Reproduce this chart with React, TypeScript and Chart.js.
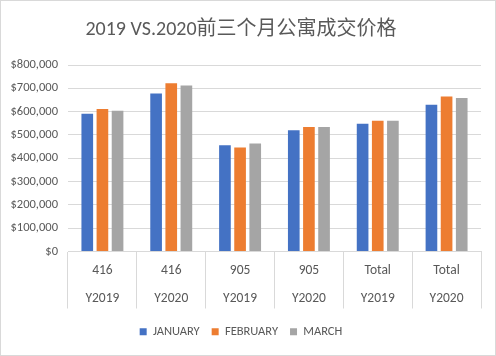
import React, { useEffect, useRef } from "react";
import { Chart, registerables } from "chart.js";

Chart.register(...registerables);

const groups = ["416", "416", "905", "905", "Total", "Total"];
const years = ["Y2019", "Y2020", "Y2019", "Y2020", "Y2019", "Y2020"];
const january = [591000, 678000, 456000, 520000, 548000, 629000];
const february = [611000, 722000, 446000, 534000, 561000, 665000];
const march = [604000, 712000, 463000, 534000, 561000, 658000];
const seriesNames = ["JANUARY", "FEBRUARY", "MARCH"];
const yTicks = [0, 100000, 200000, 300000, 400000, 500000, 600000, 700000, 800000];
const title = "2019 VS.2020前三个月公寓成交价格";

const FONT = 'Carlito, Calibri, Lato, "Noto Sans CJK SC", sans-serif';
const TEXT = "#595959";
const GRID = "#d9d9d9";

export default function App() {
  const ref = useRef<HTMLCanvasElement | null>(null);
  useEffect(() => {
    if (!ref.current) return;
    const chart = new Chart(ref.current, {
      type: "bar",
      data: {
        labels: groups.map((g, i) => [g, years[i]]),
        datasets: [
          { label: seriesNames[0], data: january, backgroundColor: "#4472C4" },
          { label: seriesNames[1], data: february, backgroundColor: "#ED7D31" },
          { label: seriesNames[2], data: march, backgroundColor: "#A5A5A5" },
        ],
      },
      options: {
        responsive: false,
        animation: false,
        datasets: { bar: { categoryPercentage: 0.66, barPercentage: 0.77 } },
        layout: { padding: { left: 0, right: 14, top: 0, bottom: 7 } },
        plugins: {
          title: {
            display: true,
            text: title,
            color: TEXT,
            font: { family: FONT, size: 20, weight: "normal" },
            padding: { top: 17, bottom: 23 },
          },
          legend: {
            position: "bottom",
            labels: {
              boxWidth: 7,
              boxHeight: 7,
              color: TEXT,
              padding: 12,
              font: { family: FONT, size: 12.5 },
            },
          },
          tooltip: { enabled: false },
        },
        scales: {
          x: {
            grid: {
              offset: true,
              drawOnChartArea: false,
              drawTicks: true,
              tickLength: 57,
              color: GRID,
            },
            border: { color: GRID },
            ticks: {
              color: TEXT,
              padding: -52,
              font: { family: FONT, size: 13.5, lineHeight: 2.1 },
              maxRotation: 0,
            },
            afterFit: (s: any) => {
              s.height = 62;
            },
          },
          y: {
            min: 0,
            max: 800000,
            afterBuildTicks: (s: any) => {
              s.ticks = yTicks.map((v) => ({ value: v }));
            },
            grid: { color: GRID, drawTicks: false },
            border: { display: false },
            ticks: {
              color: TEXT,
              padding: 10,
              font: { family: FONT, size: 12.5 },
              callback: (v: any) => "$" + Number(v).toLocaleString("en-US"),
            },
            afterFit: (s: any) => {
              s.width = 67;
            },
          },
        },
      },
    });
    return () => chart.destroy();
  }, []);
  return (
    <div
      style={{
        position: "fixed",
        left: 0,
        top: 0,
        width: 496,
        height: 356,
        boxSizing: "border-box",
        border: "1px solid #d9d9d9",
        background: "#fff",
      }}
    >
      <canvas ref={ref} width={494} height={354} style={{ display: "block" }} />
    </div>
  );
}
